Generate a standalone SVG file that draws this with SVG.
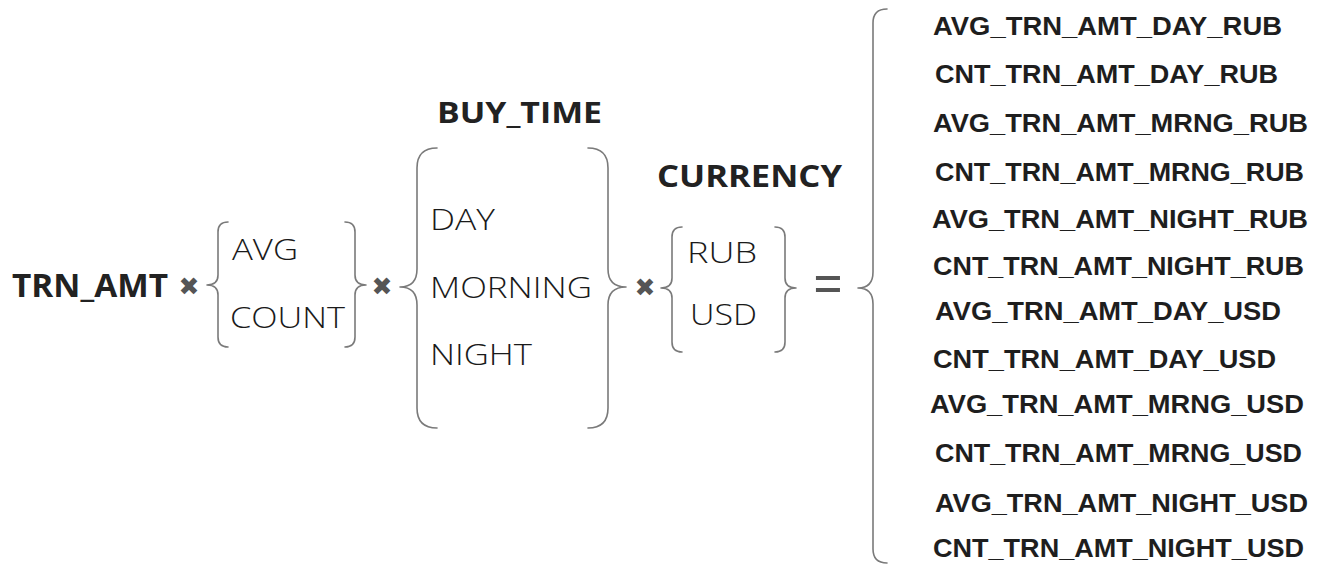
<svg xmlns="http://www.w3.org/2000/svg" width="1321" height="564" viewBox="0 0 1321 564">
  <style>
    .bg { fill: #ffffff; }
    .brace { fill: none; stroke: #7a7a7a; stroke-width: 1.6; stroke-linecap: round; stroke-linejoin: round; }
    .head { font-family: "Open Sans", "Noto Sans", sans-serif; font-weight: 700; fill: #222222; }
    .item { font-family: "Open Sans", "Noto Sans", sans-serif; font-weight: 300; fill: #1a1a1a; font-size: 30px; }
    .op { font-family: "DejaVu Sans", sans-serif; fill: #555555; font-size: 25px; }
    .eq { font-family: "Open Sans", sans-serif; fill: #555555; font-size: 60px; }
    .col { font-family: "Liberation Sans", Arial, sans-serif; font-weight: 700; fill: #1e1e1e; font-size: 25px; }
  </style>
  <rect class="bg" x="0" y="0" width="1321" height="564"/>

  <!-- base measure -->
  <g id="trn-amt">
    <text class="head" x="12" y="297" font-size="33" textLength="156" lengthAdjust="spacingAndGlyphs">TRN_AMT</text>
  </g>

  <!-- operators -->
  <g id="operators">
    <text class="op" x="189" y="295" text-anchor="middle">✖</text>
    <text class="op" x="382" y="295" text-anchor="middle">✖</text>
    <text class="op" x="645" y="296" text-anchor="middle">✖</text>
    <text class="eq" x="813" y="305" textLength="30" lengthAdjust="spacingAndGlyphs">=</text>
  </g>

  <!-- aggregation set -->
  <g id="aggregation">
    <path class="brace" d="M228,222 Q218,222 218,232 L218,275 Q218,285 207,285 Q218,285 218,295 L218,337 Q218,347 228,347"/>
    <path class="brace" d="M345,222 Q355,222 355,232 L355,275 Q355,285 366,285 Q355,285 355,295 L355,337 Q355,347 345,347"/>
    <text class="item" x="232" y="260" textLength="66" lengthAdjust="spacingAndGlyphs">AVG</text>
    <text class="item" x="230" y="328" textLength="115" lengthAdjust="spacingAndGlyphs">COUNT</text>
  </g>

  <!-- time-of-day set -->
  <g id="buy-time">
    <text class="head" x="437" y="123" font-size="29" textLength="165" lengthAdjust="spacingAndGlyphs">BUY_TIME</text>
    <path class="brace" d="M437,148 Q417,148 417,168 L417,269 Q417,287 400,287 Q417,287 417,305 L417,408 Q417,428 437,428"/>
    <path class="brace" d="M588,148 Q608,148 608,168 L608,269 Q608,287 626,287 Q608,287 608,305 L608,408 Q608,428 588,428"/>
    <text class="item" x="430" y="230" textLength="65" lengthAdjust="spacingAndGlyphs">DAY</text>
    <text class="item" x="430" y="298" textLength="162" lengthAdjust="spacingAndGlyphs">MORNING</text>
    <text class="item" x="430" y="365" textLength="102" lengthAdjust="spacingAndGlyphs">NIGHT</text>
  </g>

  <!-- currency set -->
  <g id="currency">
    <text class="head" x="657" y="187" font-size="30" textLength="185" lengthAdjust="spacingAndGlyphs">CURRENCY</text>
    <path class="brace" d="M682,227 Q672,227 672,237 L672,278 Q672,288 661,288 Q672,288 672,298 L672,342 Q672,352 682,352"/>
    <path class="brace" d="M775,227 Q785,227 785,237 L785,278 Q785,288 796,288 Q785,288 785,298 L785,342 Q785,352 775,352"/>
    <text class="item" x="687" y="263" textLength="70" lengthAdjust="spacingAndGlyphs">RUB</text>
    <text class="item" x="690" y="325" textLength="67" lengthAdjust="spacingAndGlyphs">USD</text>
  </g>

  <!-- resulting feature columns -->
  <g id="features">
    <path class="brace" d="M887,9 Q873,9 873,23 L873,272 Q873,288 858,288 Q873,288 873,304 L873,549 Q873,563 887,563"/>
    <text class="col" x="933" y="35" textLength="349" lengthAdjust="spacingAndGlyphs">AVG_TRN_AMT_DAY_RUB</text>
    <text class="col" x="935" y="83" textLength="343" lengthAdjust="spacingAndGlyphs">CNT_TRN_AMT_DAY_RUB</text>
    <text class="col" x="933" y="132" textLength="375" lengthAdjust="spacingAndGlyphs">AVG_TRN_AMT_MRNG_RUB</text>
    <text class="col" x="935" y="181" textLength="369" lengthAdjust="spacingAndGlyphs">CNT_TRN_AMT_MRNG_RUB</text>
    <text class="col" x="932" y="228" textLength="376" lengthAdjust="spacingAndGlyphs">AVG_TRN_AMT_NIGHT_RUB</text>
    <text class="col" x="933" y="275" textLength="371" lengthAdjust="spacingAndGlyphs">CNT_TRN_AMT_NIGHT_RUB</text>
    <text class="col" x="935" y="320" textLength="346" lengthAdjust="spacingAndGlyphs">AVG_TRN_AMT_DAY_USD</text>
    <text class="col" x="933" y="368" textLength="343" lengthAdjust="spacingAndGlyphs">CNT_TRN_AMT_DAY_USD</text>
    <text class="col" x="930" y="413" textLength="374" lengthAdjust="spacingAndGlyphs">AVG_TRN_AMT_MRNG_USD</text>
    <text class="col" x="935" y="462" textLength="367" lengthAdjust="spacingAndGlyphs">CNT_TRN_AMT_MRNG_USD</text>
    <text class="col" x="935" y="512" textLength="373" lengthAdjust="spacingAndGlyphs">AVG_TRN_AMT_NIGHT_USD</text>
    <text class="col" x="933" y="557" textLength="371" lengthAdjust="spacingAndGlyphs">CNT_TRN_AMT_NIGHT_USD</text>
  </g>
</svg>
